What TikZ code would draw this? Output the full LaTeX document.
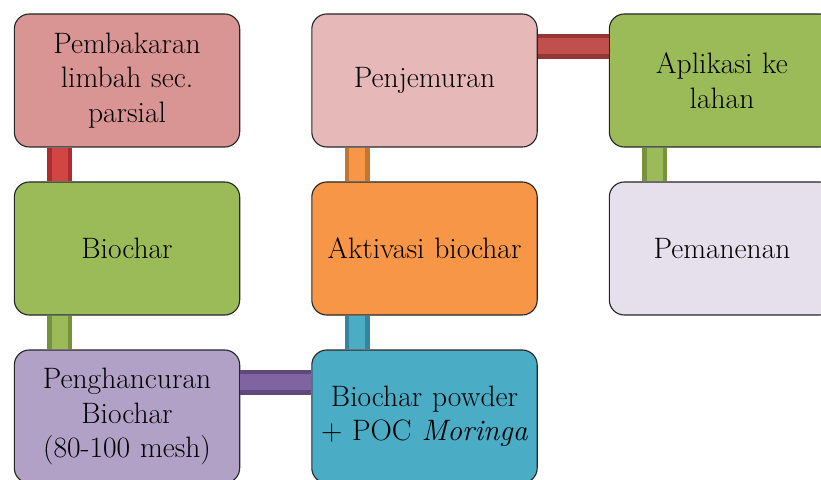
\documentclass[tikz,border=0pt]{standalone}
\usetikzlibrary{shapes}
\definecolor{rosa}{HTML}{D99594}
\definecolor{hijau}{HTML}{9BBB59}
\definecolor{hijauTua}{HTML}{76923C}
\definecolor{ungu}{HTML}{B2A1C7}
\definecolor{unguBar}{HTML}{8064A2}
\definecolor{unguTua}{HTML}{5F497A}
\definecolor{rosaMuda}{HTML}{E6B9B8}
\definecolor{jingga}{HTML}{F79646}
\definecolor{jinggaTua}{HTML}{C4752F}
\definecolor{biru}{HTML}{4BACC6}
\definecolor{biruTua}{HTML}{31859C}
\definecolor{lila}{HTML}{E5E0EC}
\definecolor{merah}{HTML}{C0504D}
\definecolor{merahTua}{HTML}{943634}
\definecolor{merahA}{HTML}{D14545}
\definecolor{merahB}{HTML}{AE2C2E}

\begin{document}
\begin{tikzpicture}[
  box/.style={rectangle, rounded corners=0.375cm, draw=black!85, line width=0.8pt,
    minimum width=5.6cm, minimum height=3.325cm, text width=5.4cm, align=center,
    font=\fontsize{21}{24.5}\selectfont},
  bar/.style 2 args={line width=0.62cm, draw=#1, postaction={draw=#2, line width=0.4cm}}
]
\useasboundingbox (0,0) rectangle (20.525,11.975);
\clip (0,0) rectangle (20.525,11.975);

\node[box, fill=rosa] (1) at (3.175,9.9625) {Pembakaran\\limbah sec.\\parsial};
\node[box, fill=hijau] (2) at (3.175,5.7625) {Biochar};
\node[box, fill=ungu] (3) at (3.175,1.5625) {Penghancuran\\Biochar\\(80-100 mesh)};
\node[box, fill=biru] (4) at (10.6125,1.5625) {Biochar powder\\+ POC \textit{Moringa}};
\node[box, fill=jingga] (5) at (10.6125,5.7625) {Aktivasi biochar};
\node[box, fill=rosaMuda] (6) at (10.6125,9.9625) {Penjemuran};
\node[box, fill=hijau] (7) at (18.05,9.9625) {Aplikasi ke\\lahan};
\node[box, fill=lila] (8) at (18.05,5.7625) {Pemanenan};

\draw[bar={merahB}{merahA}] ([xshift=1.15cm]1.south west) -- ([xshift=1.15cm]2.north west);
\draw[bar={hijauTua}{hijau}] ([xshift=1.15cm]2.south west) -- ([xshift=1.15cm]3.north west);
\draw[bar={unguTua}{unguBar}] ([yshift=-0.825cm]3.north east) -- ([yshift=-0.825cm]4.north west);
\draw[bar={biruTua}{biru}] ([xshift=1.15cm]4.north west) -- ([xshift=1.15cm]5.south west);
\draw[bar={jinggaTua}{jingga}] ([xshift=1.15cm]5.north west) -- ([xshift=1.15cm]6.south west);
\draw[bar={merahTua}{merah}] ([yshift=-0.825cm]6.north east) -- ([yshift=-0.825cm]7.north west);
\draw[bar={hijauTua}{hijau}] ([xshift=1.15cm]7.south west) -- ([xshift=1.15cm]8.north west);
\end{tikzpicture}
\end{document}
